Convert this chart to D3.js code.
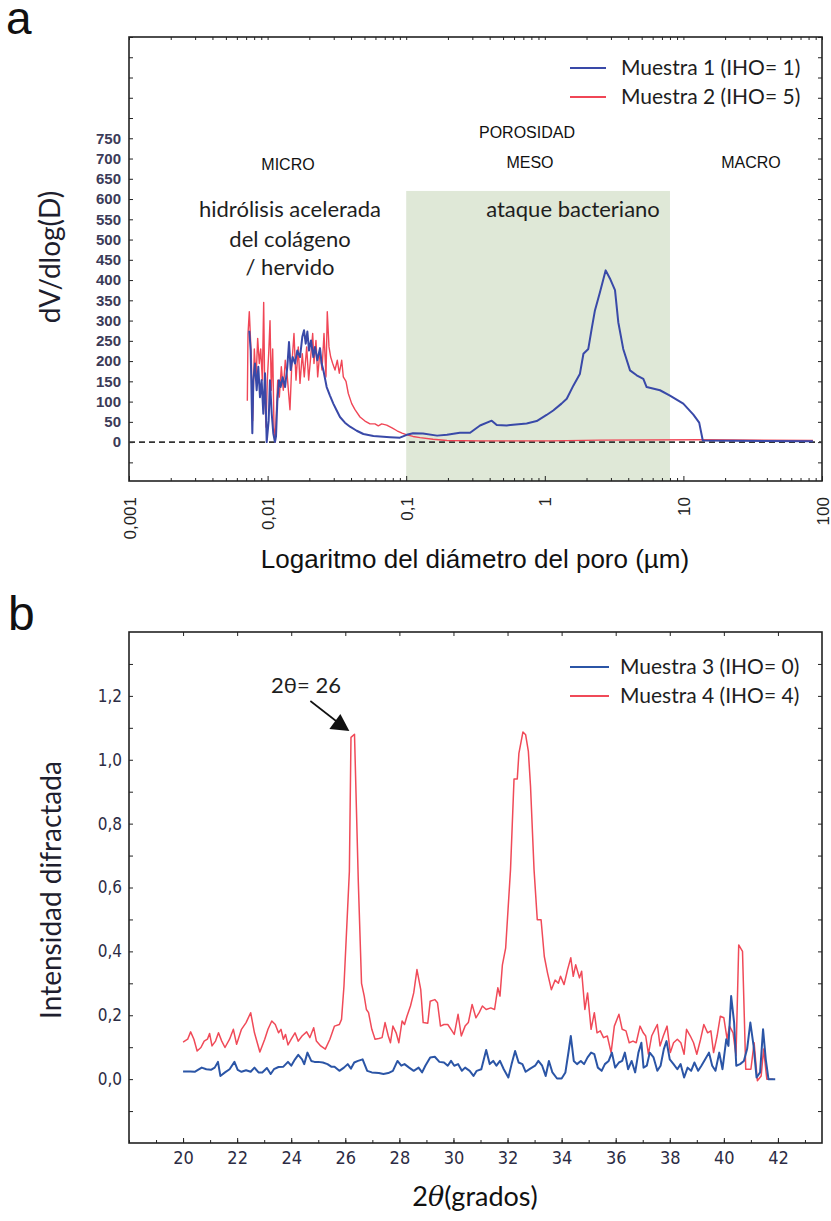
<!DOCTYPE html>
<html>
<head>
<meta charset="utf-8">
<script src="https://cdn.jsdelivr.net/npm/d3@7"></script>
<style>
  body { margin: 0; background: #fff; }
  svg { display: block; }
</style>
</head>
<body>
<svg id="chart"></svg>
<script>
// ---------- panel a data: pore size distribution ----------
const poreTicks = [0.001, 0.01, 0.1, 1, 10, 100];
const poreTickLabels = ["0,001", "0,01", "0,1", "1", "10", "100"];
const dvTicks = [0, 50, 100, 150, 200, 250, 300, 350, 400, 450, 500, 550, 600, 650, 700, 750];

// Muestra 1 (IHO = 1), pore diameter in µm and dV/dlog(D)
const sample1Diam = [0.00738, 0.00755, 0.00776, 0.00789, 0.00811, 0.00834, 0.00857, 0.00881, 0.00906, 0.00931,
  0.00958, 0.00985, 0.01018, 0.0104, 0.01071, 0.01099, 0.0113, 0.0115, 0.01175, 0.01208,
  0.01242, 0.01284, 0.01336, 0.01388, 0.01427, 0.01468, 0.01517, 0.01577, 0.01637, 0.01714,
  0.0178, 0.01832, 0.01884, 0.01936, 0.0199, 0.02057, 0.02138, 0.02198, 0.02285, 0.02388,
  0.02455, 0.02524, 0.02668, 0.02818, 0.02979, 0.03152, 0.03328, 0.03614, 0.03935, 0.04394,
  0.0491, 0.058, 0.0684, 0.0764, 0.0901, 0.101, 0.112, 0.132, 0.167, 0.197,
  0.244, 0.289, 0.341, 0.414, 0.45, 0.531, 0.59, 0.74, 0.874, 1.03,
  1.15, 1.32, 1.44, 1.61, 1.79, 1.9, 2.06, 2.18, 2.3, 2.5,
  2.75, 2.95, 3.21, 3.39, 3.68, 4.12, 4.6, 5.14, 5.43, 6.78,
  8.0, 9.98, 11.8, 13.0, 13.8, 86];
const sample1Value = [275, 226, 22, 153, 194, 128, 186, 111, 153, 70,
  170, 0, 53, 153, 70, 22, 0, 14, 100, 153,
  136, 160, 136, 186, 247, 178, 210, 194, 226, 210,
  260, 276, 243, 273, 226, 251, 210, 235, 202, 232,
  194, 178, 136, 115, 95, 78, 62, 48, 38, 28,
  20, 15, 13, 12, 11, 18, 22, 21, 16, 18,
  23, 23, 41, 53, 42, 41, 43, 46, 52, 67,
  78, 95, 107, 140, 168, 218, 230, 280, 325, 370,
  424, 404, 375, 296, 230, 177, 165, 156, 136, 128,
  115, 95, 68, 48, 4, 2];

// Muestra 2 (IHO = 5)
const sample2Diam = [0.00714, 0.00722, 0.00738, 0.00763, 0.0078, 0.00802, 0.00825, 0.00848, 0.00871, 0.00892,
  0.00916, 0.00937, 0.00953, 0.00974, 0.00995, 0.01018, 0.01041, 0.01063, 0.01088, 0.01112,
  0.01131, 0.01156, 0.01183, 0.01215, 0.01256, 0.01298, 0.01341, 0.01387, 0.0145, 0.01492,
  0.0155, 0.01603, 0.01665, 0.01713, 0.0178, 0.01839, 0.01914, 0.01979, 0.02046, 0.02115,
  0.02161, 0.02234, 0.02298, 0.02388, 0.02469, 0.02552, 0.02638, 0.02695, 0.02773, 0.02852,
  0.02949, 0.03064, 0.03184, 0.03291, 0.03425, 0.03518, 0.03679, 0.03822, 0.04044, 0.04271,
  0.04642, 0.05043, 0.0548, 0.05955, 0.06291, 0.06657, 0.07234, 0.07901, 0.08584, 0.09326,
  0.1013, 0.112, 0.1258, 0.1561, 0.197, 0.3408, 1.09, 2.502, 13.18, 86.1];
const sample2Value = [102, 267, 322, 209, 53, 230, 153, 256, 194, 230,
  153, 345, 128, 37, 153, 218, 300, 128, 230, 37,
  0, 70, 153, 111, 186, 128, 202, 161, 80, 186,
  268, 153, 235, 145, 218, 161, 235, 153, 210, 268,
  194, 251, 161, 226, 178, 268, 161, 322, 235, 210,
  194, 178, 202, 170, 202, 161, 150, 120, 95, 80,
  62, 52, 45, 45, 40, 45, 42, 35, 28, 22,
  18, 14, 11, 7, 4, 3, 3, 5, 6, 4];

// ---------- panel b data: X-ray diffraction ----------
const thetaTicks = [20, 22, 24, 26, 28, 30, 32, 34, 36, 38, 40, 42];
const intensityTicks = [0, 0.2, 0.4, 0.6, 0.8, 1.0, 1.2];
const intensityTickLabels = ["0,0", "0,2", "0,4", "0,6", "0,8", "1,0", "1,2"];

// Muestra 3 (IHO = 0)
const sample3Theta = [20.0, 20.26, 20.43, 20.55, 20.69, 20.86, 21.03, 21.17, 21.29, 21.38,
  21.55, 21.72, 21.9, 22.02, 22.16, 22.33, 22.5, 22.64, 22.79, 22.93,
  23.1, 23.24, 23.36, 23.53, 23.71, 23.88, 24.0, 24.14, 24.26, 24.4,
  24.48, 24.6, 24.74, 24.86, 25.0, 25.17, 25.34, 25.48, 25.6, 25.78,
  25.95, 26.09, 26.21, 26.33, 26.47, 26.64, 26.81, 26.98, 27.24, 27.41,
  27.59, 27.76, 27.93, 28.07, 28.19, 28.36, 28.53, 28.71, 28.84, 28.96,
  29.14, 29.31, 29.48, 29.65, 29.79, 29.91, 30.03, 30.17, 30.31, 30.43,
  30.6, 30.74, 30.86, 31.03, 31.21, 31.34, 31.47, 31.59, 31.72, 31.86,
  32.03, 32.15, 32.28, 32.41, 32.55, 32.67, 32.84, 33.02, 33.14, 33.28,
  33.41, 33.53, 33.66, 33.83, 34.0, 34.14, 34.26, 34.34, 34.45, 34.57,
  34.71, 34.83, 34.96, 35.09, 35.21, 35.34, 35.48, 35.6, 35.74, 35.86,
  35.98, 36.12, 36.24, 36.34, 36.46, 36.59, 36.72, 36.84, 36.95, 37.03,
  37.15, 37.26, 37.4, 37.54, 37.66, 37.78, 37.88, 38.0, 38.14, 38.28,
  38.4, 38.53, 38.66, 38.79, 38.91, 39.05, 39.17, 39.31, 39.45, 39.57,
  39.69, 39.83, 39.95, 40.09, 40.17, 40.27, 40.38, 40.46, 40.6, 40.74,
  40.86, 40.98, 41.1, 41.21, 41.34, 41.45, 41.55, 41.65, 41.9];
const sample3Value = [0.024, 0.024, 0.023, 0.029, 0.036, 0.031, 0.029, 0.036, 0.054, 0.010,
  0.021, 0.031, 0.054, 0.029, 0.023, 0.028, 0.023, 0.036, 0.021, 0.021,
  0.035, 0.016, 0.031, 0.038, 0.039, 0.054, 0.042, 0.062, 0.076, 0.062,
  0.047, 0.083, 0.057, 0.054, 0.054, 0.052, 0.047, 0.039, 0.039, 0.026,
  0.036, 0.047, 0.033, 0.052, 0.057, 0.062, 0.026, 0.021, 0.019, 0.016,
  0.019, 0.026, 0.057, 0.042, 0.047, 0.036, 0.026, 0.036, 0.021, 0.042,
  0.068, 0.070, 0.054, 0.052, 0.042, 0.057, 0.042, 0.047, 0.026, 0.036,
  0.026, 0.010, 0.026, 0.031, 0.091, 0.047, 0.057, 0.042, 0.057, 0.031,
  0.005, 0.047, 0.088, 0.052, 0.047, 0.023, 0.033, 0.042, 0.057, 0.042,
  0.010, 0.057, 0.021, 0.002, 0.002, 0.021, 0.088, 0.135, 0.057, 0.047,
  0.057, 0.047, 0.068, 0.083, 0.078, 0.036, 0.026, 0.047, 0.057, 0.083,
  0.036, 0.052, 0.057, 0.083, 0.031, 0.057, 0.021, 0.083, 0.114, 0.036,
  0.042, 0.083, 0.068, 0.026, 0.042, 0.094, 0.119, 0.062, 0.047, 0.031,
  0.047, 0.005, 0.036, 0.026, 0.052, 0.026, 0.042, 0.062, 0.083, 0.042,
  0.026, 0.083, 0.031, 0.125, 0.104, 0.26, 0.177, 0.042, 0.047, 0.057,
  0.094, 0.177, 0.104, 0.005, 0.021, 0.156, 0.062, 0.0, 0.0];

// Muestra 4 (IHO = 4)
const sample4Theta = [20.0, 20.17, 20.28, 20.4, 20.52, 20.66, 20.78, 20.9, 20.98, 21.07,
  21.2, 21.31, 21.43, 21.55, 21.72, 21.86, 21.98, 22.16, 22.33, 22.5,
  22.64, 22.84, 23.02, 23.14, 23.28, 23.41, 23.53, 23.62, 23.71, 23.79,
  23.88, 24.0, 24.14, 24.26, 24.4, 24.57, 24.69, 24.83, 24.93, 25.09,
  25.26, 25.43, 25.6, 25.78, 25.86, 25.95, 26.05, 26.15, 26.21, 26.34,
  26.41, 26.48, 26.6, 26.7, 26.78, 26.86, 26.98, 27.1, 27.24, 27.36,
  27.47, 27.59, 27.67, 27.76, 27.88, 27.98, 28.1, 28.19, 28.28, 28.41,
  28.53, 28.65, 28.79, 28.88, 29.05, 29.14, 29.31, 29.41, 29.52, 29.65,
  29.79, 29.91, 30.03, 30.17, 30.29, 30.43, 30.55, 30.69, 30.83, 30.95,
  31.07, 31.21, 31.38, 31.52, 31.64, 31.72, 31.81, 31.93, 32.11, 32.24,
  32.36, 32.42, 32.57, 32.67, 32.77, 32.85, 32.98, 33.1, 33.24, 33.36,
  33.48, 33.62, 33.76, 33.88, 33.96, 34.09, 34.22, 34.34, 34.43, 34.52,
  34.66, 34.74, 34.86, 34.96, 35.09, 35.21, 35.31, 35.43, 35.55, 35.69,
  35.83, 35.95, 36.12, 36.24, 36.38, 36.5, 36.64, 36.76, 36.9, 37.02,
  37.11, 37.21, 37.33, 37.45, 37.54, 37.64, 37.76, 37.9, 38.02, 38.14,
  38.28, 38.41, 38.53, 38.62, 38.76, 38.88, 39.0, 39.14, 39.26, 39.4,
  39.52, 39.62, 39.75, 39.87, 40.0, 40.12, 40.21, 40.34, 40.45, 40.55,
  40.69, 40.81, 41.0, 41.12, 41.24, 41.38, 41.47, 41.59, 41.82];
const sample4Value = [0.116, 0.125, 0.148, 0.125, 0.088, 0.099, 0.119, 0.125, 0.143, 0.104,
  0.119, 0.145, 0.119, 0.099, 0.125, 0.156, 0.109, 0.156, 0.177, 0.208,
  0.145, 0.085, 0.125, 0.156, 0.182, 0.171, 0.145, 0.156, 0.125, 0.140,
  0.107, 0.125, 0.145, 0.119, 0.135, 0.148, 0.130, 0.161, 0.119, 0.104,
  0.094, 0.125, 0.166, 0.171, 0.187, 0.291, 0.47, 0.65, 1.07, 1.08,
  0.85, 0.62, 0.30, 0.26, 0.218, 0.208, 0.156, 0.125, 0.127, 0.130,
  0.177, 0.135, 0.114, 0.166, 0.145, 0.114, 0.182, 0.171, 0.197, 0.229,
  0.27, 0.343, 0.28, 0.177, 0.175, 0.244, 0.249, 0.239, 0.166, 0.171,
  0.171, 0.156, 0.140, 0.203, 0.135, 0.166, 0.177, 0.234, 0.192, 0.208,
  0.229, 0.218, 0.223, 0.218, 0.286, 0.26, 0.358, 0.41, 0.656, 0.94,
  0.94, 1.02, 1.087, 1.078, 1.026, 0.917, 0.656, 0.499, 0.499, 0.384,
  0.332, 0.28, 0.31, 0.30, 0.322, 0.296, 0.343, 0.38, 0.322, 0.358,
  0.317, 0.338, 0.218, 0.27, 0.156, 0.208, 0.145, 0.151, 0.13, 0.135,
  0.083, 0.166, 0.203, 0.156, 0.151, 0.114, 0.119, 0.114, 0.166, 0.145,
  0.135, 0.078, 0.135, 0.156, 0.171, 0.104, 0.135, 0.166, 0.083, 0.114,
  0.125, 0.114, 0.078, 0.156, 0.135, 0.114, 0.078, 0.125, 0.171, 0.145,
  0.151, 0.083, 0.135, 0.197, 0.192, 0.125, 0.166, 0.145, 0.073, 0.42,
  0.40, 0.031, 0.031, 0.114, -0.005, 0.01, 0.094, 0.0, 0.0];

// ---------- setup ----------
const width = 831;
const height = 1221;
const svg = d3.select("#chart").attr("width", width).attr("height", height);

const arial = "'Liberation Sans', Arial, sans-serif";
const narrow = "'Liberation Sans Narrow', 'DejaVu Sans Condensed', 'Liberation Sans', sans-serif";
const calibri = "Lato, 'Open Sans', sans-serif";
const ink = "#222";
const blue1 = "#3949a8";
const red1 = "#f04656";
const blue2 = "#2b55a6";
const red2 = "#f04a58";

// draw a frame with inward ticks on all four sides
function frameAxes(g, x, y, opt) {
  const [x0, x1] = x.range();
  const [y0, y1] = y.range();
  const clean = (sel) => {
    sel.select(".domain").remove();
    sel.selectAll("line").attr("stroke", ink);
  };
  opt.forEach((a) => {
    const grp = g.append("g");
    let axis;
    if (a.side === "bottom") { axis = d3.axisBottom(x); grp.attr("transform", `translate(0,${y0})`); }
    if (a.side === "top") { axis = d3.axisTop(x); grp.attr("transform", `translate(0,${y1})`); }
    if (a.side === "left") { axis = d3.axisLeft(y); grp.attr("transform", `translate(${x0},0)`); }
    if (a.side === "right") { axis = d3.axisRight(y); grp.attr("transform", `translate(${x1},0)`); }
    axis.tickValues(a.values).tickSize(-a.size).tickPadding(a.pad || 3).tickFormat(a.format || (() => ""));
    grp.call(axis).call(clean);
    if (a.style) a.style(grp.selectAll("text"));
  });
  g.append("rect")
    .attr("x", x0).attr("y", y1)
    .attr("width", x1 - x0).attr("height", y0 - y1)
    .attr("fill", "none").attr("stroke", ink).attr("stroke-width", 1.6);
}

// ---------- panel a ----------
const xA = d3.scaleLog().domain([0.001, 100]).range([129, 822]);
const yA = d3.scaleLinear().domain([-96, 1000]).range([481, 37]);
const panelA = svg.append("g");

// green band for the meso range
const bandFrom = 0.1, bandTo = 8, bandTop = 620;
panelA.append("rect")
  .attr("x", xA(bandFrom)).attr("y", yA(bandTop))
  .attr("width", xA(bandTo) - xA(bandFrom))
  .attr("height", yA(-96) - yA(bandTop))
  .attr("fill", "#dfe8d7");

const minorA = [];
poreTicks.slice(0, -1).forEach((t) => { for (let k = 2; k < 10; k++) minorA.push(t * k); });
const yMinorA = d3.range(-50, 1001, 50);

frameAxes(panelA, xA, yA, [
  { side: "bottom", values: minorA, size: 3 },
  {
    side: "bottom", values: poreTicks, size: 5,
    format: (d, i) => poreTickLabels[i],
    style: (t) => t.attr("transform", "rotate(-90)").attr("text-anchor", "end")
      .attr("x", -16).attr("y", 0).attr("dy", "0.36em")
      .style("font-family", arial).style("font-size", "17px").attr("fill", "#222")
  },
  { side: "top", values: minorA.concat(poreTicks), size: 3 },
  {
    side: "left", values: yMinorA, size: 4, pad: 8,
    format: (d) => (dvTicks.includes(d) ? d : ""),
    style: (t) => t.style("font-family", arial).style("font-size", "15px")
      .style("font-weight", "bold").attr("fill", "#3b3b58")
  },
  { side: "right", values: yMinorA, size: 4 }
]);

// zero reference
panelA.append("line")
  .attr("x1", xA(0.001)).attr("x2", xA(100))
  .attr("y1", yA(0)).attr("y2", yA(0))
  .attr("stroke", "#333").attr("stroke-width", 1.6).attr("stroke-dasharray", "6,4");

const lineA = d3.line().x((d) => xA(d[0])).y((d) => yA(d[1]));
panelA.append("path")
  .datum(d3.zip(sample2Diam, sample2Value))
  .attr("d", lineA).attr("fill", "none")
  .attr("stroke", red1).attr("stroke-width", 1.4).attr("stroke-linejoin", "round");
panelA.append("path")
  .datum(d3.zip(sample1Diam, sample1Value))
  .attr("d", lineA).attr("fill", "none")
  .attr("stroke", blue1).attr("stroke-width", 2).attr("stroke-linejoin", "round");

// region labels
const labelsA = [
  { t: "POROSIDAD", x: 527, y: 138 },
  { t: "MICRO", x: 288, y: 170 },
  { t: "MESO", x: 530, y: 168 },
  { t: "MACRO", x: 751, y: 168 }
];
panelA.selectAll(".region").data(labelsA).enter().append("text")
  .attr("x", (d) => d.x).attr("y", (d) => d.y)
  .attr("text-anchor", "middle")
  .style("font-family", arial).style("font-size", "16px").attr("fill", "#111")
  .text((d) => d.t);

const notesA = [
  { t: "hidrólisis acelerada", x: 290, y: 217 },
  { t: "del colágeno", x: 290, y: 247 },
  { t: "/ hervido", x: 290, y: 275 },
  { t: "ataque bacteriano", x: 573, y: 217 }
];
panelA.selectAll(".note").data(notesA).enter().append("text")
  .attr("x", (d) => d.x).attr("y", (d) => d.y)
  .attr("text-anchor", "middle")
  .style("font-family", calibri).style("font-size", "22px").attr("fill", "#1e1e1e")
  .text((d) => d.t);

// legend a
const legendA = [
  { t: "Muestra 1 (IHO= 1)", c: blue1, y: 68 },
  { t: "Muestra 2 (IHO= 5)", c: red1, y: 97 }
];
const legA = panelA.selectAll(".leg").data(legendA).enter().append("g");
legA.append("line").attr("x1", 570).attr("x2", 606)
  .attr("y1", (d) => d.y).attr("y2", (d) => d.y)
  .attr("stroke", (d) => d.c).attr("stroke-width", 2);
legA.append("text").attr("x", 621).attr("y", (d) => d.y + 7)
  .style("font-family", calibri).style("font-size", "21px").attr("fill", "#1e1e1e")
  .text((d) => d.t);

// axis titles a
panelA.append("text")
  .attr("transform", "translate(60,257) rotate(-90)")
  .attr("text-anchor", "middle")
  .style("font-family", calibri).style("font-size", "28px").attr("fill", "#1e1e2e")
  .text("dV/dlog(D)");
panelA.append("text")
  .attr("x", 475).attr("y", 568).attr("text-anchor", "middle")
  .style("font-family", arial).style("font-size", "26px").attr("fill", "#111")
  .text("Logaritmo del diámetro del poro (µm)");
svg.append("text").attr("x", 6).attr("y", 34)
  .style("font-family", arial).style("font-size", "46px").attr("fill", "#111").text("a");

// ---------- panel b ----------
const xB = d3.scaleLinear().domain([18, 43.63]).range([129, 822]);
const yB = d3.scaleLinear().domain([-0.2, 1.4]).range([1143, 632]);
const panelB = svg.append("g");

const yMinorB = d3.range(-1, 14).map((k) => k / 10);
frameAxes(panelB, xB, yB, [
  { side: "bottom", values: d3.range(18, 44), size: 3 },
  {
    side: "bottom", values: thetaTicks, size: 5, pad: 8,
    format: (d) => d,
    style: (t) => t.style("font-family", narrow).style("font-size", "18px").attr("fill", "#2c2c44")
  },
  { side: "top", values: thetaTicks, size: 4 },
  {
    side: "left", values: yMinorB, size: 4, pad: 7,
    format: (d) => {
      const i = intensityTicks.findIndex((v) => Math.abs(v - d) < 1e-9);
      return i >= 0 ? intensityTickLabels[i] : "";
    },
    style: (t) => t.style("font-family", narrow).style("font-size", "17px").attr("fill", "#2c2c44")
  },
  { side: "right", values: yMinorB, size: 4 }
]);

const lineB = d3.line().x((d) => xB(d[0])).y((d) => yB(d[1]));
panelB.append("path")
  .datum(d3.zip(sample4Theta, sample4Value))
  .attr("d", lineB).attr("fill", "none")
  .attr("stroke", red2).attr("stroke-width", 1.5).attr("stroke-linejoin", "round");
panelB.append("path")
  .datum(d3.zip(sample3Theta, sample3Value))
  .attr("d", lineB).attr("fill", "none")
  .attr("stroke", blue2).attr("stroke-width", 2).attr("stroke-linejoin", "round");

// annotation on the 26 degree peak
const tip = [xB(26.15), yB(1.09)];
panelB.append("line")
  .attr("x1", tip[0] - 39).attr("y1", tip[1] - 30)
  .attr("x2", tip[0] - 12).attr("y2", tip[1] - 9)
  .attr("stroke", "#111").attr("stroke-width", 1.6);
panelB.append("path")
  .attr("d", `M${tip[0]},${tip[1]} L${tip[0] - 20},${tip[1] - 2} L${tip[0] - 9},${tip[1] - 17} Z`)
  .attr("fill", "#111");
panelB.append("text").attr("x", 306).attr("y", 693).attr("text-anchor", "middle")
  .style("font-family", calibri).style("font-size", "22px").attr("fill", "#1e1e1e")
  .text("2θ= 26");

// legend b
const legendB = [
  { t: "Muestra 3 (IHO= 0)", c: blue2, y: 667 },
  { t: "Muestra 4 (IHO= 4)", c: red2, y: 696 }
];
const legB = panelB.selectAll(".leg").data(legendB).enter().append("g");
legB.append("line").attr("x1", 570).attr("x2", 609)
  .attr("y1", (d) => d.y).attr("y2", (d) => d.y)
  .attr("stroke", (d) => d.c).attr("stroke-width", 2);
legB.append("text").attr("x", 620).attr("y", (d) => d.y + 7)
  .style("font-family", calibri).style("font-size", "21px").attr("fill", "#1e1e1e")
  .text((d) => d.t);

// axis titles b
panelB.append("text")
  .attr("transform", "translate(61,890) rotate(-90)")
  .attr("text-anchor", "middle")
  .style("font-family", calibri).style("font-size", "28px").attr("fill", "#1e1e2e")
  .text("Intensidad difractada");
const xTitle = panelB.append("text")
  .attr("x", 475).attr("y", 1206).attr("text-anchor", "middle")
  .style("font-family", calibri).style("font-size", "27px").attr("fill", "#111");
xTitle.append("tspan").text("2");
xTitle.append("tspan").style("font-family", "'DejaVu Serif', serif").style("font-style", "italic").text("θ");
xTitle.append("tspan").text("(grados)");
svg.append("text").attr("x", 8).attr("y", 630)
  .style("font-family", arial).style("font-size", "48px").attr("fill", "#111").text("b");
</script>
</body>
</html>
